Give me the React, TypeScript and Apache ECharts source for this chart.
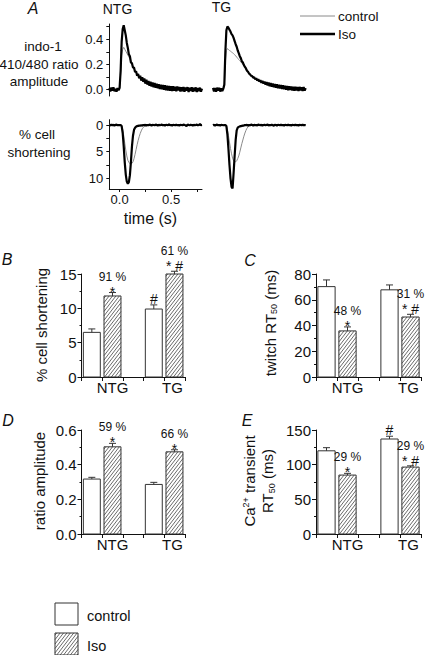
import React, { useEffect, useRef } from "react";
import * as echarts from "echarts";

const FONT = '"Liberation Sans", Arial, Helvetica, sans-serif';
const INK = "#111";

// ---------- Panel A: representative traces (time in s) ----------
const timeA = [
  -0.1, -0.09, -0.08, -0.07, -0.06, -0.05, -0.04, -0.03, -0.02, -0.01,
  0.0, 0.01, 0.02, 0.03, 0.04, 0.05, 0.06, 0.07, 0.08, 0.09,
  0.1, 0.11, 0.12, 0.13, 0.14, 0.15, 0.16, 0.17, 0.18, 0.19,
  0.2, 0.21, 0.22, 0.23, 0.24, 0.25, 0.26, 0.27, 0.28, 0.29,
  0.3, 0.31, 0.32, 0.33, 0.34, 0.35, 0.36, 0.37, 0.38, 0.39,
  0.4, 0.41, 0.42, 0.43, 0.44, 0.45, 0.46, 0.47, 0.48, 0.49,
  0.5, 0.51, 0.52, 0.53, 0.54, 0.55, 0.56, 0.57, 0.58, 0.59,
  0.6, 0.61, 0.62, 0.63, 0.64, 0.65, 0.66, 0.67, 0.68, 0.69,
  0.7, 0.71, 0.72, 0.73, 0.74, 0.75, 0.76, 0.77, 0.78, 0.79,
  0.8,
];

const ntgCaIso = [
  0.012, -0.014, 0.016, -0.008, 0.018, -0.012, 0.006, -0.016, 0.014, -0.004,
  0.014, 0.15, 0.38, 0.48, 0.51, 0.47, 0.43, 0.37, 0.33, 0.28,
  0.265, 0.215, 0.21, 0.175, 0.175, 0.14, 0.145, 0.11, 0.125, 0.09,
  0.11, 0.072, 0.098, 0.062, 0.088, 0.048, 0.078, 0.04, 0.068, 0.032,
  0.062, 0.026, 0.058, 0.02, 0.052, 0.016, 0.048, 0.012, 0.044, 0.006,
  0.04, 0.004, 0.038, 0.0, 0.035, -0.004, 0.032, -0.006, 0.03, -0.008,
  0.028, -0.01, 0.027, -0.008, 0.024, -0.012, 0.025, -0.006, 0.022, -0.014,
  0.02, -0.012, 0.022, -0.016, 0.018, -0.008, 0.02, -0.018, 0.016, -0.01,
  0.019, -0.016, 0.015, -0.012, 0.018, -0.018, 0.014, -0.012, 0.016, -0.016,
  0.008,
];
const ntgCaControl = [
  -0.005, 0.008, -0.006, 0.006, -0.004, 0.007, -0.008, 0.005, -0.003, 0.006,
  0.0, 0.12, 0.27, 0.32, 0.335, 0.32, 0.305, 0.29, 0.275, 0.26,
  0.245, 0.225, 0.205, 0.18, 0.165, 0.15, 0.135, 0.125, 0.11, 0.105,
  0.095, 0.09, 0.08, 0.078, 0.07, 0.065, 0.06, 0.058, 0.05, 0.048,
  0.045, 0.04, 0.042, 0.035, 0.036, 0.03, 0.032, 0.026, 0.028, 0.022,
  0.024, 0.018, 0.02, 0.015, 0.018, 0.012, 0.015, 0.01, 0.013, 0.008,
  0.012, 0.006, 0.01, 0.004, 0.009, 0.003, 0.008, 0.002, 0.007, 0.0,
  0.006, 0.001, 0.005, -0.002, 0.006, 0.0, 0.004, -0.003, 0.005, -0.001,
  0.003, -0.004, 0.004, -0.002, 0.003, -0.003, 0.002, -0.004, 0.003, -0.002,
  0.001,
];
const tgCaIso = [
  0.014, -0.014, 0.012, -0.016, 0.016, -0.008, 0.015, -0.015, 0.01, -0.01,
  0.008, 0.04, 0.3, 0.47, 0.5, 0.49, 0.475, 0.46, 0.44, 0.43,
  0.41, 0.385, 0.36, 0.34, 0.31, 0.29, 0.265, 0.25, 0.225, 0.215,
  0.195, 0.18, 0.168, 0.15, 0.142, 0.128, 0.122, 0.11, 0.108, 0.096,
  0.098, 0.082, 0.09, 0.072, 0.082, 0.064, 0.076, 0.055, 0.07, 0.048,
  0.064, 0.04, 0.06, 0.034, 0.056, 0.028, 0.052, 0.024, 0.048, 0.02,
  0.044, 0.016, 0.042, 0.012, 0.038, 0.01, 0.036, 0.006, 0.034, 0.004,
  0.03, 0.0, 0.03, -0.004, 0.026, -0.002, 0.026, -0.006, 0.024, -0.008,
  0.022, -0.006, 0.02, -0.01, 0.022, -0.006, 0.018, -0.01, 0.02, -0.008,
  0.012,
];
const tgCaControl = [
  -0.004, 0.006, -0.005, 0.007, -0.006, 0.004, -0.003, 0.006, -0.005, 0.003,
  0.002, 0.03, 0.22, 0.31, 0.325, 0.318, 0.31, 0.305, 0.298, 0.292,
  0.285, 0.277, 0.268, 0.258, 0.248, 0.238, 0.23, 0.22, 0.21, 0.2,
  0.188, 0.178, 0.16, 0.152, 0.138, 0.13, 0.118, 0.112, 0.102, 0.098,
  0.09, 0.086, 0.08, 0.076, 0.07, 0.068, 0.062, 0.06, 0.055, 0.053,
  0.048, 0.047, 0.042, 0.042, 0.037, 0.037, 0.033, 0.033, 0.029, 0.03,
  0.026, 0.027, 0.023, 0.024, 0.02, 0.022, 0.018, 0.02, 0.016, 0.018,
  0.014, 0.016, 0.012, 0.014, 0.01, 0.013, 0.009, 0.012, 0.008, 0.011,
  0.007, 0.01, 0.006, 0.009, 0.006, 0.008, 0.005, 0.008, 0.005, 0.007,
  0.005,
];

const ntgShIso = [
  0.0, 0.1, -0.1, 0.05, -0.05, 0.1, 0.0, -0.1, 0.05, 0.0,
  0.0, 0.0, 0.2, 1.5, 4.0, 7.0, 9.3, 10.6, 11.0, 10.7,
  9.4, 6.9, 4.0, 2.0, 0.9, 0.5, 0.3, 0.2, 0.15, 0.1,
  0.1, 0.05, 0.1, 0.0, 0.05, -0.05, 0.1, 0.0, 0.05, -0.1,
  0.0, 0.1, -0.05, 0.0, 0.05, -0.1, 0.0, 0.1, -0.05, 0.05,
  0.0, -0.1, 0.05, 0.0, 0.1, -0.05, 0.0, 0.05, -0.15, 0.05,
  0.0, 0.1, -0.05, 0.0, 0.05, -0.1, 0.05, 0.0, 0.1, -0.05,
  0.0, 0.05, -0.1, 0.0, 0.05, 0.2, -0.1, 0.0, 0.05, -0.05,
  0.0, 0.1, -0.05, 0.05, 0.0, -0.1, 0.05, 0.0, -0.2, 0.05,
  0.0,
];
const ntgShControl = [
  0.0, 0.05, 0.0, -0.05, 0.0, 0.05, 0.0, -0.05, 0.0, 0.05,
  0.0, 0.0, 0.1, 0.8, 2.0, 3.4, 4.7, 5.8, 6.6, 7.0,
  7.25, 7.3, 7.2, 6.9, 6.3, 5.5, 4.6, 3.7, 2.9, 2.2,
  1.6, 1.1, 0.7, 0.45, 0.3, 0.2, 0.1, 0.05, 0.05, 0.0,
  0.05, 0.0, -0.05, 0.0, 0.05, 0.0, 0.0, 0.05, 0.0, -0.05,
  0.0, 0.05, 0.0, 0.0, -0.05, 0.0, 0.05, 0.0, 0.0, 0.05,
  0.0, -0.05, 0.0, 0.05, 0.0, 0.0, -0.05, 0.0, 0.05, 0.0,
  0.0, 0.05, 0.0, -0.05, 0.0, 0.05, 0.0, 0.0, -0.05, 0.0,
  0.05, 0.0, 0.0, -0.05, 0.0, 0.05, 0.0, 0.0, 0.05, 0.0,
  0.0,
];
const tgShIso = [
  0.05, -0.05, 0.1, 0.0, -0.1, 0.05, 0.0, 0.1, -0.05, 0.0,
  0.05, 0.0, 0.0, 0.2, 1.8, 4.5, 7.5, 10.0, 11.6, 11.9,
  9.0, 5.8, 2.8, 1.0, 0.5, 0.35, 0.25, 0.2, 0.15, 0.1,
  0.1, 0.0, 0.05, -0.05, 0.1, 0.0, 0.05, -0.1, 0.0, 0.1,
  -0.05, 0.05, 0.0, 0.1, -0.1, 0.0, 0.05, -0.05, 0.1, 0.0,
  -0.05, 0.05, 0.0, -0.1, 0.1, 0.0, 0.05, -0.05, 0.0, 0.15,
  -0.05, 0.0, 0.1, -0.05, 0.0, 0.05, -0.1, 0.05, 0.0, 0.1,
  -0.05, 0.0, 0.05, -0.1, 0.05, 0.0, 0.1, -0.05, 0.0, 0.05,
  -0.1, 0.05, 0.0, 0.1, -0.05, 0.0, 0.05, -0.1, 0.05, 0.0,
  0.05,
];
const tgShControl = [
  0.0, -0.05, 0.0, 0.05, 0.0, -0.05, 0.0, 0.05, 0.0, 0.0,
  0.0, 0.0, 0.0, 0.1, 0.8, 2.0, 3.2, 4.4, 5.4, 6.2,
  6.7, 6.9, 6.9, 6.7, 6.3, 5.8, 5.1, 4.3, 3.5, 2.8,
  2.1, 1.5, 1.0, 0.6, 0.35, 0.2, 0.1, 0.05, 0.0, 0.05,
  0.0, 0.0, -0.05, 0.0, 0.05, 0.0, 0.0, -0.05, 0.0, 0.05,
  0.0, 0.0, 0.05, 0.0, -0.05, 0.0, 0.0, 0.05, 0.0, 0.0,
  -0.05, 0.0, 0.05, 0.0, 0.0, -0.05, 0.0, 0.05, 0.0, 0.0,
  0.0, 0.05, 0.0, -0.05, 0.0, 0.0, 0.05, 0.0, 0.0, -0.05,
  0.0, 0.0, 0.05, 0.0, -0.05, 0.0, 0.0, 0.05, 0.0, 0.0,
  0.0,
];

const caTicks = [0, 0.2, 0.4];
const shTicks = [0, 5, 10];
const timeTicks = [0, 0.5];

// ---------- Panels B–E: means, SEM, significance ----------
const groupNames = ["NTG", "TG"];

const shortControl = [6.5, 9.9];
const shortControlErr = [0.5, 0.6];
const shortIso = [11.8, 15.0];
const shortIsoErr = [0.5, 0.4];
const shortControlSig = ["", "#"];
const shortIsoSig = ["*", "* #"];
const shortIsoPct = ["91 %", "61 %"];

const twitchControl = [70.2, 67.7];
const twitchControlErr = [5.2, 3.8];
const twitchIso = [35.8, 46.6];
const twitchIsoErr = [3.1, 2.1];
const twitchControlSig = ["", ""];
const twitchIsoSig = ["*", "* #"];
const twitchIsoPct = ["48 %", "31 %"];

const ratioControl = [0.317, 0.286];
const ratioControlErr = [0.01, 0.012];
const ratioIso = [0.503, 0.474];
const ratioIsoErr = [0.02, 0.012];
const ratioControlSig = ["", ""];
const ratioIsoSig = ["*", "*"];
const ratioIsoPct = ["59 %", "66 %"];

const caRtControl = [120, 137];
const caRtControlErr = [4.5, 4.0];
const caRtIso = [85, 96.5];
const caRtIsoErr = [2.5, 1.8];
const caRtControlSig = ["", "#"];
const caRtIsoSig = ["*", "* #"];
const caRtIsoPct = ["29 %", "29 %"];

// ---------- helpers ----------
const pairs = (ts: number[], vs: number[]) => ts.map((t, i) => [t, vs[i]]);

function hatchLines(xl: number, yt: number, xr: number, yb: number, color: string) {
  const k = 1.3;
  const s = 3.4;
  const out: any[] = [];
  for (let c = k * xl + yt + k * s * 0.5; c < k * xr + yb; c += k * s) {
    const xa = Math.max(xl, (c - yb) / k);
    const xb = Math.min(xr, (c - yt) / k);
    if (xb > xa) {
      out.push({
        type: "line",
        shape: { x1: xa, y1: c - k * xa, x2: xb, y2: c - k * xb },
        style: { stroke: color, lineWidth: 0.8 },
      });
    }
  }
  return out;
}

const annotRich = {
  p: { fontSize: 12, lineHeight: 14, fontFamily: FONT, color: INK, align: "center" },
  s: { fontSize: 14, lineHeight: 16, fontFamily: FONT, color: INK, align: "center" },
};

function barSeries(
  axisIdx: number,
  values: number[],
  errs: number[],
  hatched: boolean,
  sigs: string[],
  pcts: string[]
) {
  const offset = hatched ? 1.5 : 0.5;
  return {
    type: "custom",
    xAxisIndex: axisIdx,
    yAxisIndex: axisIdx,
    silent: true,
    clip: false,
    data: values.map((v, i) => [i * 3 + offset, v, errs[i]]),
    renderItem: (params: any, api: any) => {
      const i = params.dataIndex;
      const x = api.value(0);
      const v = api.value(1);
      const e = api.value(2);
      const [xl, yt] = api.coord([x - 0.41, v]);
      const [xr, yb] = api.coord([x + 0.41, 0]);
      const [xc, ye] = api.coord([x, v + e]);
      const children: any[] = [];
      children.push({
        type: "rect",
        shape: { x: xl, y: yt, width: xr - xl, height: yb - yt },
        style: { fill: "#fff", stroke: "none" },
      });
      if (hatched) children.push(...hatchLines(xl, yt, xr, yb, "#444"));
      children.push({
        type: "rect",
        shape: { x: xl, y: yt, width: xr - xl, height: yb - yt },
        style: { fill: "none", stroke: "#333", lineWidth: 1 },
      });
      children.push({
        type: "line",
        shape: { x1: xc, y1: yt, x2: xc, y2: ye },
        style: { stroke: "#333", lineWidth: 1 },
      });
      children.push({
        type: "line",
        shape: { x1: xc - 3.5, y1: ye, x2: xc + 3.5, y2: ye },
        style: { stroke: "#333", lineWidth: 1 },
      });
      const sig = sigs[i] || "";
      const pct = pcts[i] || "";
      const hasHash = sig.indexOf("#") >= 0;
      const hasStar = sig.indexOf("*") >= 0;
      if (sig || pct) {
        const parts: string[] = [];
        if (pct) parts.push(`{p|${pct}}`);
        if (sig) parts.push(`{s|${sig}}`);
        const bottom = ye + (hasHash ? (hasStar ? 3 : 2) : 7);
        children.push({
          type: "text",
          style: {
            text: parts.join("\n"),
            rich: annotRich,
            x: xc,
            y: bottom,
            align: "center",
            verticalAlign: "bottom",
            fontSize: 14,
            fontFamily: FONT,
            fill: INK,
          },
        });
      }
      return { type: "group", children };
    },
  };
}

function lineSeries(axisIdx: number, name: string, vs: number[], iso: boolean) {
  return {
    type: "line",
    name,
    xAxisIndex: axisIdx,
    yAxisIndex: axisIdx,
    data: pairs(timeA, vs),
    symbol: "none",
    silent: true,
    z: iso ? 4 : 3,
    lineStyle: iso ? { color: "#000", width: 2.2 } : { color: "#8a8a8a", width: 1 },
  };
}

const axisLine = { show: true, onZero: false, lineStyle: { color: INK, width: 1 } };
const tickStyle = { color: INK, width: 1 };

function barXAxis(gridIndex: number) {
  return {
    type: "value",
    gridIndex,
    min: 0,
    max: 5,
    interval: 1,
    axisLine,
    axisTick: { show: true, length: 4, lineStyle: tickStyle },
    splitLine: { show: false },
    axisLabel: {
      customValues: [1.5, 4.4],
      formatter: (v: number) => (v < 3 ? groupNames[0] : groupNames[1]),
      fontSize: 15,
      fontFamily: FONT,
      color: INK,
      margin: 3,
    },
  };
}

function barYAxis(gridIndex: number, max: number, interval: number, digits: number) {
  return {
    type: "value",
    gridIndex,
    min: 0,
    max,
    interval,
    axisLine,
    axisTick: { show: true, length: 4, lineStyle: tickStyle },
    minorTick: { show: true, splitNumber: 2, length: 2, lineStyle: tickStyle },
    splitLine: { show: false },
    axisLabel: {
      formatter: (v: number) => v.toFixed(digits),
      fontSize: 15,
      fontFamily: FONT,
      color: INK,
      margin: 5,
    },
  };
}

const txt = (text: string, x: number, y: number, size: number, extra: any = {}) => ({
  type: "text",
  x,
  y,
  silent: true,
  style: {
    text,
    fontSize: size,
    fontFamily: FONT,
    fill: INK,
    align: "center",
    verticalAlign: "middle",
    ...extra,
  },
});

const richName = {
  t: { fontSize: 15, fontFamily: FONT, color: INK },
  s: { fontSize: 9, fontFamily: FONT, color: INK, padding: [8, 0, 0, 0] },
  p: { fontSize: 9, fontFamily: FONT, color: INK, padding: [0, 0, 8, 0] },
};

const rotText = (text: string, x: number, y: number) => ({
  type: "text",
  x,
  y,
  rotation: Math.PI / 2,
  silent: true,
  style: {
    text,
    rich: richName,
    fontSize: 15,
    fontFamily: FONT,
    fill: INK,
    align: "center",
    verticalAlign: "middle",
    lineHeight: 18,
  },
});

const legendHatch = {
  type: "group",
  silent: true,
  children: [
    { type: "rect", shape: { x: 55, y: 633, width: 23, height: 22 }, style: { fill: "#fff", stroke: "none" } },
    ...hatchLines(55, 633, 78, 655, "#444"),
    { type: "rect", shape: { x: 55, y: 633, width: 23, height: 22 }, style: { fill: "none", stroke: "#333", lineWidth: 1 } },
  ],
};

const option: any = {
  animation: false,
  backgroundColor: "#fff",
  grid: [
    { left: 109.3, top: 24, width: 92.7, height: 72 },
    { left: 213, top: 24, width: 92.7, height: 72 },
    { left: 109.3, top: 119.7, width: 92.7, height: 69.3 },
    { left: 213, top: 119.7, width: 92.7, height: 69.3 },
    { left: 81.5, top: 274, width: 103.3, height: 103 },
    { left: 316, top: 274, width: 105, height: 103 },
    { left: 81.5, top: 430, width: 103.3, height: 104 },
    { left: 316, top: 430, width: 105, height: 104 },
  ],
  xAxis: [
    { type: "value", gridIndex: 0, min: -0.1, max: 0.8, show: false },
    { type: "value", gridIndex: 1, min: -0.1, max: 0.8, show: false },
    {
      type: "value",
      gridIndex: 2,
      min: -0.1,
      max: 0.8,
      axisLine,
      splitLine: { show: false },
      axisTick: { show: true, length: 3, customValues: [0, 0.25, 0.5, 0.75], lineStyle: tickStyle },
      axisLabel: {
        customValues: timeTicks,
        formatter: (v: number) => v.toFixed(1),
        fontSize: 13,
        fontFamily: FONT,
        color: INK,
        margin: 4,
      },
    },
    { type: "value", gridIndex: 3, min: -0.1, max: 0.8, show: false },
    barXAxis(4),
    barXAxis(5),
    barXAxis(6),
    barXAxis(7),
  ],
  yAxis: [
    {
      type: "value",
      gridIndex: 0,
      min: -0.05,
      max: 0.52,
      axisLine,
      splitLine: { show: false },
      axisTick: { show: true, length: 3, customValues: [0, 0.1, 0.2, 0.3, 0.4, 0.5], lineStyle: tickStyle },
      axisLabel: {
        customValues: caTicks,
        formatter: (v: number) => v.toFixed(1),
        fontSize: 13,
        fontFamily: FONT,
        color: INK,
        margin: 6,
      },
    },
    { type: "value", gridIndex: 1, min: -0.05, max: 0.52, show: false },
    {
      type: "value",
      gridIndex: 2,
      min: -1,
      max: 12,
      inverse: true,
      axisLine,
      splitLine: { show: false },
      axisTick: { show: true, length: 3, customValues: [0, 2.5, 5, 7.5, 10], lineStyle: tickStyle },
      axisLabel: {
        customValues: shTicks,
        formatter: (v: number) => String(v),
        fontSize: 13,
        fontFamily: FONT,
        color: INK,
        margin: 6,
      },
    },
    { type: "value", gridIndex: 3, min: -1, max: 12, inverse: true, show: false },
    barYAxis(4, 15, 5, 0),
    barYAxis(5, 80, 20, 0),
    barYAxis(6, 0.6, 0.2, 1),
    barYAxis(7, 150, 50, 0),
  ],
  series: [
    lineSeries(0, "control", ntgCaControl, false),
    lineSeries(0, "Iso", ntgCaIso, true),
    lineSeries(1, "control", tgCaControl, false),
    lineSeries(1, "Iso", tgCaIso, true),
    lineSeries(2, "control", ntgShControl, false),
    lineSeries(2, "Iso", ntgShIso, true),
    lineSeries(3, "control", tgShControl, false),
    lineSeries(3, "Iso", tgShIso, true),
    barSeries(4, shortControl, shortControlErr, false, shortControlSig, []),
    barSeries(4, shortIso, shortIsoErr, true, shortIsoSig, shortIsoPct),
    barSeries(5, twitchControl, twitchControlErr, false, twitchControlSig, []),
    barSeries(5, twitchIso, twitchIsoErr, true, twitchIsoSig, twitchIsoPct),
    barSeries(6, ratioControl, ratioControlErr, false, ratioControlSig, []),
    barSeries(6, ratioIso, ratioIsoErr, true, ratioIsoSig, ratioIsoPct),
    barSeries(7, caRtControl, caRtControlErr, false, caRtControlSig, []),
    barSeries(7, caRtIso, caRtIsoErr, true, caRtIsoSig, caRtIsoPct),
  ],
  graphic: [
    txt("A", 33, 8, 16, { fontStyle: "italic" }),
    txt("NTG", 117.5, 9, 14),
    txt("TG", 221.5, 6.5, 14),
    txt("indo-1", 43, 46, 13.5),
    txt("410/480 ratio", 39, 64.5, 13.5),
    txt("amplitude", 39, 81.5, 13.5),
    txt("% cell", 37, 134, 13.5),
    txt("shortening", 39, 152, 13.5),
    txt("time (s)", 150.5, 218, 16),
    { type: "line", silent: true, shape: { x1: 300, y1: 16, x2: 335, y2: 16 }, style: { stroke: "#8a8a8a", lineWidth: 1 } },
    { type: "line", silent: true, shape: { x1: 300, y1: 34, x2: 335, y2: 34 }, style: { stroke: "#000", lineWidth: 2.5 } },
    txt("control", 338, 16.5, 13.5, { align: "left" }),
    txt("Iso", 338, 34.5, 13.5, { align: "left" }),
    txt("B", 7, 259, 16, { fontStyle: "italic" }),
    txt("C", 250, 260, 16, { fontStyle: "italic" }),
    txt("D", 8, 420, 16, { fontStyle: "italic" }),
    txt("E", 247, 420, 16, { fontStyle: "italic" }),
    rotText("{t|% cell shortening}", 41.5, 325),
    rotText("{t|twitch RT}{s|50}{t| (ms)}", 270, 323),
    rotText("{t|ratio amplitude}", 39, 481),
    rotText("{t|Ca}{p|2+}{t| transient}\n{t|RT}{s|50}{t| (ms)}", 258.5, 481),
    {
      type: "rect",
      silent: true,
      shape: { x: 55, y: 603, width: 23, height: 22 },
      style: { fill: "#fff", stroke: "#333", lineWidth: 1 },
    },
    legendHatch,
    txt("control", 87, 616, 14.5, { align: "left" }),
    txt("Iso", 87, 645.5, 14.5, { align: "left" }),
  ],
};

export default function App() {
  const ref = useRef<HTMLDivElement>(null);
  useEffect(() => {
    if (!ref.current) return;
    const chart = echarts.init(ref.current, null, { renderer: "svg" });
    chart.setOption(option);
    return () => chart.dispose();
  }, []);
  return (
    <div
      ref={ref}
      style={{ position: "fixed", left: 0, top: 0, width: 425, height: 655, background: "#fff" }}
    />
  );
}
